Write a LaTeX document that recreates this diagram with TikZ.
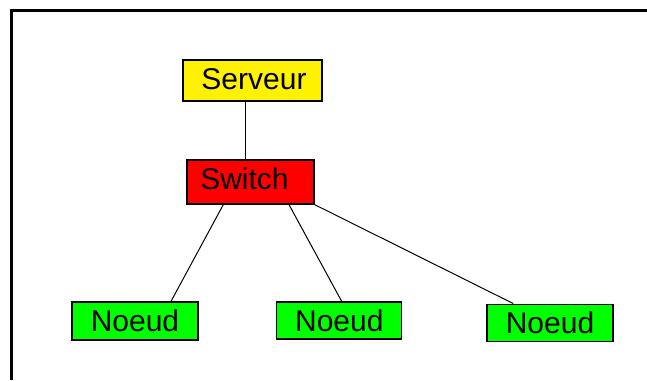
\documentclass[tikz,border=0pt]{standalone}
\usepackage{fontspec}
\setmainfont{Liberation Sans}
\begin{document}
\begin{tikzpicture}[x=1pt,y=-1pt,
  box/.style={draw=black, line width=1.3pt, inner sep=0pt, font=\fontsize{30}{36}\selectfont},
  link/.style={draw=black, line width=1pt}]
\useasboundingbox (0,0) rectangle (647,380);
\fill[white] (0,0) rectangle (647,380);

% outer frame (top and left edges)
\draw[line width=3pt] (11.5,380) -- (11.5,10.5) -- (647,10.5);

% devices
\node[box, fill=yellow, minimum width=139pt, minimum height=41pt,
      label={[font=\fontsize{30}{36}\selectfont, xshift=1.5pt, yshift=1pt]center:Serveur}]
      (serveur) at (252.5,80.5) {};
\node[box, fill=red, minimum width=127pt, minimum height=44pt,
      label={[font=\fontsize{30}{36}\selectfont, xshift=-6pt, yshift=3pt]center:Switch}]
      (switch) at (250.5,182) {};
\node[box, fill=green, minimum width=126pt, minimum height=38pt] (n1) at (135,321) {Noeud};
\node[box, fill=green, minimum width=125pt, minimum height=37pt] (n2) at (339.3,320.5) {Noeud};
\node[box, fill=green, minimum width=126pt, minimum height=37pt] (n3) at (550,322.7) {Noeud};

% cabling
\draw[link] ([xshift=-6.8pt]serveur.south) -- ([xshift=-4.8pt]switch.north);
\draw[link] ([xshift=-27.2pt]switch.south) -- ([xshift=36pt]n1.north);
\draw[link] ([xshift=38.5pt]switch.south) -- ([xshift=2.4pt]n2.north);
\draw[link] (switch.south east) -- ([xshift=-36.7pt]n3.north);
\end{tikzpicture}
\end{document}
